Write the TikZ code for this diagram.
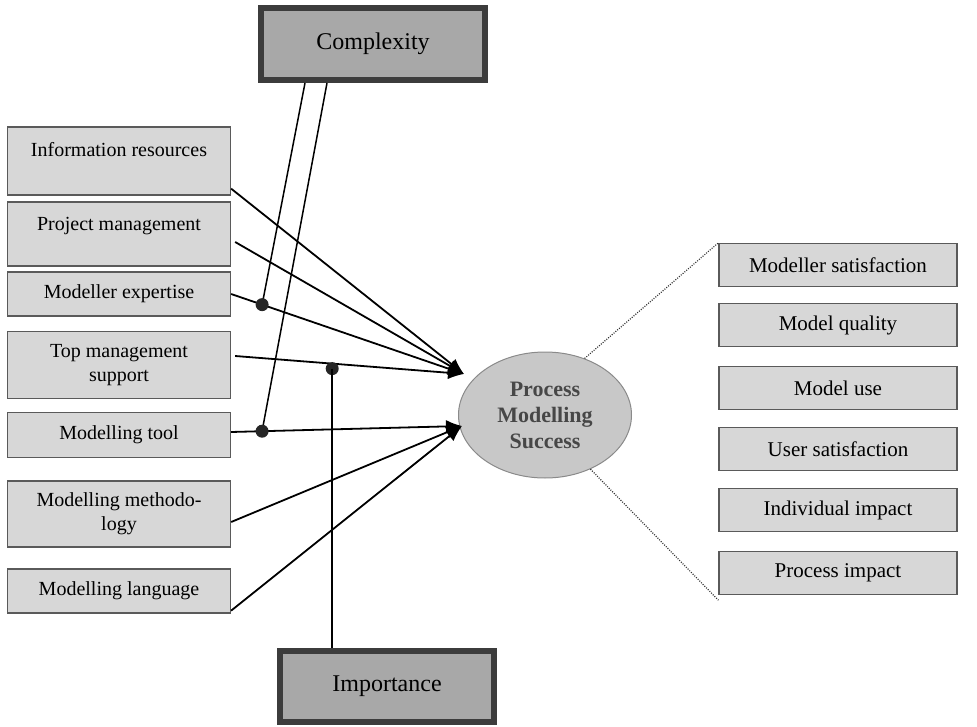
\documentclass[tikz,border=0pt]{standalone}
\usepackage{fontspec}
\setmainfont{Liberation Serif}
\usetikzlibrary{arrows.meta,shapes.geometric}
\definecolor{boxfill}{HTML}{D7D7D7}
\definecolor{boxline}{HTML}{5A5A5A}
\definecolor{modfill}{HTML}{A8A8A8}
\definecolor{modline}{HTML}{3C3C3C}
\definecolor{ellfill}{HTML}{C8C8C8}
\definecolor{ellline}{HTML}{8A8A8A}
\definecolor{elltext}{HTML}{474747}
\begin{document}
\begin{tikzpicture}[x=1pt, y=-1pt,
    factor/.style={rectangle, draw=boxline, fill=boxfill, line width=1.3pt, minimum width=223pt, inner sep=0pt, align=center, font=\fontsize{20}{24}\selectfont},
    measure/.style={rectangle, draw=boxline, fill=boxfill, line width=1.3pt, minimum width=238pt, minimum height=43pt, inner sep=0pt, font=\fontsize{21}{24}\selectfont},
    moderator/.style={rectangle, draw=modline, fill=modfill, line width=6pt, font=\fontsize{24}{28}\selectfont},
    success/.style={ellipse, draw=ellline, fill=ellfill, line width=1pt, minimum width=173pt, minimum height=126pt, inner sep=0pt, align=center, text=elltext, font=\fontsize{22}{26}\selectfont\bfseries},
    arrow/.style={-{Latex[length=16pt,width=13pt]}, line width=1.8pt},
    link/.style={line width=1.5pt},
    joint/.style={circle, fill=black!85, inner sep=0pt, minimum size=13pt},
    zoomline/.style={line width=1.2pt, black!80, dash pattern=on 1pt off 1.4pt}
]
\useasboundingbox (0,0) rectangle (977,727);
% moderators
\node[moderator, minimum width=224pt, minimum height=72pt] (cplx) at (373,44) {Complexity};
\node[moderator, minimum width=214pt, minimum height=71pt] (imp) at (387,686) {Importance};
% success factors
\node[factor, text height=30pt, text depth=38pt] (info) at (119,161) {Information resources};
\node[factor, text height=29pt, text depth=35pt] (proj) at (119,234) {Project management};
\node[factor, minimum height=44pt] (expert) at (119,294) {Modeller expertise};
\node[factor, minimum height=67pt] (topmgmt) at (119,365) {Top management\\support};
\node[factor, minimum height=45pt] (tool) at (119,435) {Modelling tool};
\node[factor, minimum height=66pt] (method) at (119,514) {Modelling methodo-\\logy};
\node[factor, minimum height=44pt] (lang) at (119,591) {Modelling language};
% dependent variable
\node[success] (pms) at (545,415) {Process\\Modelling\\Success};
\coordinate (inA) at (464,374);
\coordinate (inB) at (462,426);
% success measures
\node[measure] (msat) at (838,265) {Modeller satisfaction};
\node[measure] (mqual) at (838,325) {Model quality};
\node[measure] (muse) at (838,388) {Model use};
\node[measure] (usat) at (838,449) {User satisfaction};
\node[measure] (indiv) at (838,510) {Individual impact};
\node[measure] (proc) at (838,573) {Process impact};
% factor arrows
\draw[arrow] ([yshift=7pt]info.south east) -- (inA);
\draw[arrow] ([xshift=4pt,yshift=-8pt]proj.east) -- (inA);
\draw[arrow] (expert.east) -- coordinate[pos=0.133] (cxA) (inA);
\draw[arrow] ([xshift=4pt,yshift=9pt]topmgmt.east) -- coordinate[pos=0.424] (imA) (inA);
\draw[arrow] ([yshift=3pt]tool.east) -- coordinate[pos=0.134] (cxB) (inB);
\draw[arrow] ([yshift=-8pt]method.east) -- (inB);
\draw[arrow] ([yshift=3pt]lang.south east) -- (inB);
% moderating effects
\draw[link] ([xshift=47pt]cplx.south west) -- (cxA);
\draw[link] ([xshift=69pt]cplx.south west) -- (cxB);
\node[joint] (jA) at (cxA) {};
\node[joint] (jB) at (cxB) {};
\node[joint, yshift=-5pt] (jC) at (imA) {};
\draw[link] (jC.center) -- (jC.center |- imp.north);
% measures
\draw[zoomline] (pms.55) -- (msat.north west);
\draw[zoomline] (pms.-50) -- ([yshift=-5pt]proc.south west);
\end{tikzpicture}
\end{document}
